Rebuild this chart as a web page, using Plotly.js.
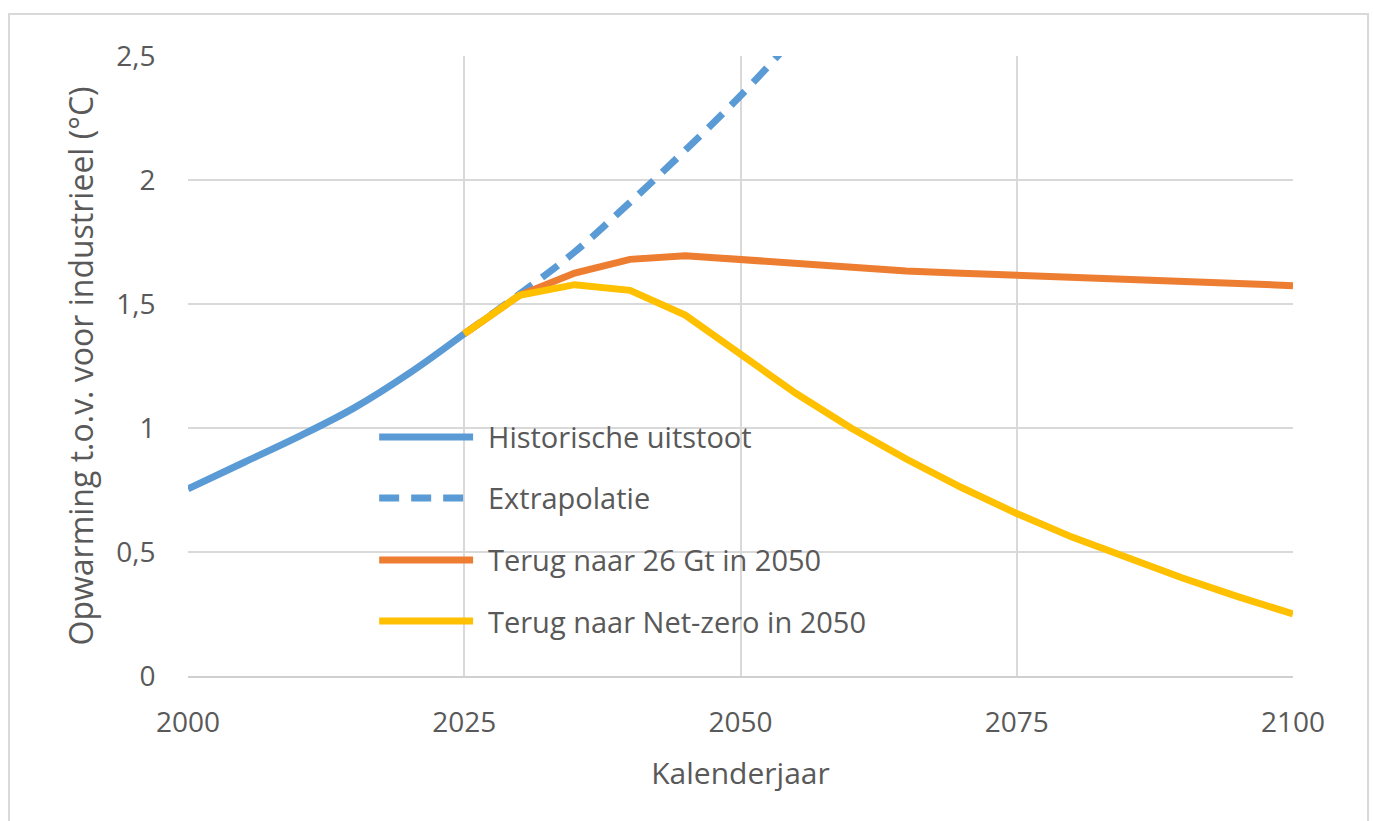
<!DOCTYPE html>
<html>
<head>
<meta charset="utf-8">
<script src="https://cdn.plot.ly/plotly-3.0.1.min.js"></script>
<style>html,body{margin:0;padding:0;background:#fff;} #chart{width:1373px;height:821px;}</style>
</head>
<body>
<div id="chart"></div>
<script>
// Data
const histYears = [2000, 2005, 2010, 2015, 2020, 2025];
const histValues = [0.755, 0.86, 0.965, 1.08, 1.22, 1.38];

const extraYears = [2025, 2030, 2035, 2040, 2045, 2050, 2055];
const extraValues = [1.38, 1.54, 1.71, 1.91, 2.12, 2.34, 2.58];

const scenYears = [2025, 2030, 2035, 2040, 2045, 2050, 2055, 2060, 2065, 2070, 2075, 2080, 2085, 2090, 2095, 2100];
const gt26Values = [1.38, 1.535, 1.625, 1.68, 1.695, 1.68, 1.66, 1.645, 1.633, 1.624, 1.615, 1.606, 1.598, 1.59, 1.582, 1.574];
const netZeroValues = [1.38, 1.535, 1.578, 1.555, 1.455, 1.295, 1.14, 1.0, 0.875, 0.76, 0.655, 0.56, 0.475, 0.395, 0.32, 0.25];

const seriesNames = ["Historische uitstoot", "Extrapolatie", "Terug naar 26 Gt in 2050", "Terug naar Net-zero in 2050"];
const xTicks = [2000, 2025, 2050, 2075, 2100];
const yTicks = [0, 0.5, 1, 1.5, 2, 2.5];
const yTickText = ["0", "0,5", "1", "1,5", "2", "2,5"];

const C_BLUE = "#5B9BD5", C_ORANGE = "#ED7D31", C_YELLOW = "#FFC000";
const LW = 7;
const FONT = "Open Sans, sans-serif";
const GREY = "#595959";
const DASH = "20px,12px";

const traces = [
  {x: histYears, y: histValues, name: seriesNames[0], mode: "lines",
   line: {color: C_BLUE, width: LW, shape: "spline", smoothing: 1}},
  {x: extraYears, y: extraValues, name: seriesNames[1], mode: "lines",
   line: {color: C_BLUE, width: LW, dash: DASH, shape: "spline", smoothing: 1}},
  {x: scenYears, y: gt26Values, name: seriesNames[2], mode: "lines",
   line: {color: C_ORANGE, width: LW}},
  {x: scenYears, y: netZeroValues, name: seriesNames[3], mode: "lines",
   line: {color: C_YELLOW, width: LW}}
];

// custom legend (long line samples as in the reference)
const legY = [0.3855, 0.2871, 0.1871, 0.0887];
const legColors = [C_BLUE, C_BLUE, C_ORANGE, C_YELLOW];
const legDash = ["solid", DASH, "solid", "solid"];
const shapes = [
  {type: "rect", xref: "paper", yref: "paper", x0: -0.162, x1: 1.0679, y0: -0.26, y1: 1.0677,
   line: {color: "#D9D9D9", width: 2}, fillcolor: "rgba(0,0,0,0)", layer: "below"}
];
const annotations = [];
for (let i = 0; i < seriesNames.length; i++) {
  shapes.push({type: "line", xref: "paper", yref: "paper", x0: 0.173, x1: 0.258, y0: legY[i], y1: legY[i],
    line: {color: legColors[i], width: LW, dash: legDash[i]}});
  annotations.push({xref: "paper", yref: "paper", x: 0.2695, y: legY[i], xanchor: "left", yanchor: "middle",
    text: seriesNames[i], showarrow: false, font: {family: FONT, size: 29, color: GREY}});
}

const layout = {
  width: 1373, height: 821,
  margin: {l: 188, r: 80, t: 56, b: 145},
  paper_bgcolor: "#fff", plot_bgcolor: "#fff",
  showlegend: false,
  font: {family: FONT, color: GREY},
  xaxis: {
    range: [2000, 2100], tickvals: xTicks, ticktext: xTicks.map(String),
    showgrid: true, gridcolor: "#D9D9D9", gridwidth: 2,
    zeroline: false, showline: true, linecolor: "#D0D0D0", linewidth: 2,
    ticks: "outside", ticklen: 20, tickcolor: "rgba(0,0,0,0)",
    tickfont: {family: FONT, size: 28, color: GREY},
    title: {text: "Kalenderjaar", font: {family: FONT, size: 30, color: GREY}, standoff: 24}
  },
  yaxis: {
    range: [0, 2.5], tickvals: yTicks, ticktext: yTickText,
    showgrid: true, gridcolor: "#D9D9D9", gridwidth: 2,
    zeroline: false, showline: false,
    ticks: "outside", ticklen: 26, tickcolor: "rgba(0,0,0,0)",
    tickfont: {family: FONT, size: 28, color: GREY},
    title: {text: "Opwarming t.o.v. voor industrieel (°C)", font: {family: FONT, size: 32, color: GREY}, standoff: 12}
  },
  shapes: shapes,
  annotations: annotations
};

Plotly.newPlot("chart", traces, layout, {displayModeBar: false, staticPlot: true});
</script>
</body>
</html>
